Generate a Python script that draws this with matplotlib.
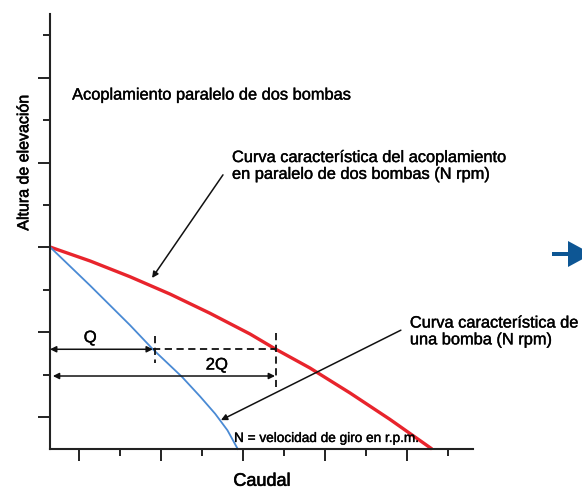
import matplotlib.pyplot as plt
import matplotlib.patheffects as pe
from matplotlib.patches import Polygon, Rectangle

plt.rcParams['font.family'] = ['Liberation Sans', 'DejaVu Sans']

# Curvas (unidades arbitrarias: caudal, altura)
q_una = [0, 0.98, 1.95, 2.51, 3.22, 3.66, 4.03, 4.33, 4.58]
h_una = [4.76, 3.85, 2.92, 2.35, 1.70, 1.24, 0.83, 0.44, 0]
q_par = [0, 0.98, 1.95, 2.93, 3.90, 4.88, 5.51, 6.34, 7.32, 8.29, 9.32]
h_par = [4.76, 4.43, 4.06, 3.65, 3.20, 2.71, 2.35, 1.91, 1.32, 0.70, 0]

# punto de trabajo Q / 2Q
h_q = 2.35
q_1 = 2.51
q_2 = 5.51
h_2q = 1.72

xticks_major = [0.7, 2.7, 4.7, 6.7, 8.7]
xticks_minor = [1.7, 3.7, 5.7, 7.7, 9.7]
yticks_major = [0.75, 2.75, 4.75, 6.75, 8.75]
yticks_minor = [1.75, 3.75, 5.75, 7.75, 9.75]

red = '#e8242c'
blue = '#4a8ad4'
ink = '#111111'
bold = [pe.withStroke(linewidth=0.3, foreground=ink)]
bold_lbl = [pe.withStroke(linewidth=0.45, foreground=ink)]

fig = plt.figure(figsize=(5.82, 4.90), dpi=100)
ax = fig.add_axes([50/582, 41/490, 423/582, 435/490])
ax.set_xlim(0, 10.32)
ax.set_ylim(0, 10.25)
ax.patch.set_alpha(0)

for s in ['top', 'right']:
    ax.spines[s].set_visible(False)
for s in ['left', 'bottom']:
    ax.spines[s].set_linewidth(1.5)
    ax.spines[s].set_color('#222222')

ax.set_xticks(xticks_major)
ax.set_xticks(xticks_minor, minor=True)
ax.set_yticks(yticks_major)
ax.set_yticks(yticks_minor, minor=True)
ax.tick_params(which='major', length=8.5, width=1.4, color='#222222', direction='out',
               labelbottom=False, labelleft=False)
ax.tick_params(which='minor', length=5, width=1.4, color='#222222', direction='out')

# curvas
ax.plot(q_par, h_par, color=red, lw=2.4, solid_capstyle='butt', solid_joinstyle='round', clip_on=False)
ax.plot(q_una, h_una, color=blue, lw=1.3, solid_joinstyle='round', clip_on=False)

# cotas Q y 2Q
arr = dict(arrowstyle='<|-|>', mutation_scale=9, lw=1.1, color=ink, shrinkA=0, shrinkB=0)
ax.annotate('', xy=(0, h_q), xytext=(q_1, h_q), arrowprops=arr)
ax.annotate('', xy=(0.07, h_2q), xytext=(q_2 - 0.02, h_2q), arrowprops=arr)
ax.plot([q_1, q_2], [h_q, h_q], color=ink, lw=1.3, ls=(0, (4, 2.5)))
ax.plot([q_1 + 0.04, q_1 + 0.04], [2.66, 2.03], color=ink, lw=1.3, ls=(0, (4, 2.5)))
ax.plot([q_2, q_2], [2.73, 1.46], color=ink, lw=1.3, ls=(0, (4, 2.5)))
ax.text(0.98, 2.62, 'Q', fontsize=12, ha='center', va='center', path_effects=bold)
ax.text(4.07, 1.98, '2Q', fontsize=12, ha='center', va='center', path_effects=bold)

# textos
ax.text(0.54, 8.34, 'Acoplamiento paralelo de dos bombas', fontsize=11.8, va='center',
        path_effects=bold)
ax.text(4.44, 6.67, 'Curva característica del acoplamiento\nen paralelo de dos bombas (N rpm)',
        fontsize=11.8, va='center', linespacing=1.15, path_effects=bold)
ax.text(8.78, 2.77, 'Curva característica de\nuna bomba (N rpm)',
        fontsize=11.8, va='center', linespacing=1.15, path_effects=bold)
ax.text(4.49, 0.26, 'N = velocidad de giro en r.p.m.', fontsize=9.8, va='center',
        path_effects=bold)
ax.text(5.17, -0.76, 'Caudal', fontsize=13, ha='center', va='center', path_effects=bold_lbl)
ax.text(-0.64, 6.75, 'Altura de elevación', fontsize=11.5, rotation=90, ha='center', va='center',
        path_effects=bold_lbl)

# flechas indicadoras
ptr = dict(arrowstyle='-|>', mutation_scale=9, lw=1.1, color=ink, shrinkA=0, shrinkB=0)
ax.annotate('', xy=(2.49, 4.03), xytext=(4.22, 6.46), arrowprops=ptr)
ax.annotate('', xy=(4.17, 0.68), xytext=(8.56, 2.80), arrowprops=ptr)

# flecha azul del borde derecho
navy = '#0d5694'
fig.add_artist(Rectangle((552/582, 1 - 256/490), 18/582, 4/490,
                         transform=fig.transFigure, color=navy, lw=0))
fig.add_artist(Polygon([(568/582, 1 - 241/490), (568/582, 1 - 267/490), (592/582, 1 - 254/490)],
                       closed=True, transform=fig.transFigure, color=navy, lw=0))

fig.savefig('out.png', dpi=100)
